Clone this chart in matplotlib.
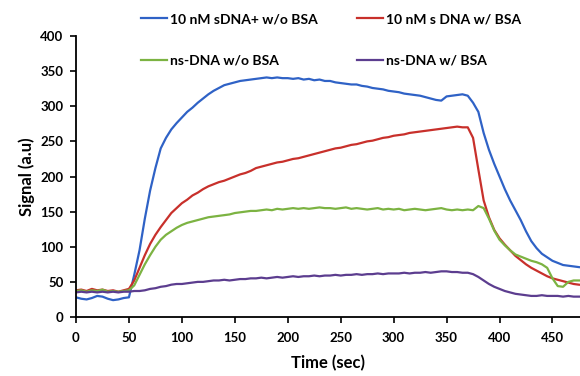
import numpy as np
import matplotlib
matplotlib.use("Agg")
import matplotlib.pyplot as plt

# sample times (sec), one reading every 5 s
time_s = np.arange(0, 480, 5)

sdna_no_bsa = [
    28, 26, 25, 27, 30, 29, 26, 24, 25, 27,
    28, 60, 95, 140, 180, 212, 240, 255, 267, 276,
    284, 292, 298, 305, 311, 317, 322, 326, 330, 332,
    334, 336, 337, 338, 339, 340, 341, 340, 341, 340,
    340, 339, 340, 338, 339, 337, 338, 336, 336, 334,
    333, 332, 331, 331, 329, 328, 326, 325, 324, 322,
    321, 320, 318, 317, 316, 315, 313, 311, 309, 308,
    314, 315, 316, 317, 315, 305, 292, 262, 238, 218,
    200, 182, 166, 152, 138, 122, 108, 98, 90, 85,
    80, 77, 74, 73, 72, 71,
]
sdna_bsa = [
    38, 39, 37, 40, 38, 39, 37, 38, 36, 38,
    40, 52, 70, 88, 104, 117, 128, 138, 148, 155,
    162, 167, 173, 177, 182, 186, 189, 192, 194, 197,
    200, 203, 205, 208, 212, 214, 216, 218, 220, 221,
    223, 225, 226, 228, 230, 232, 234, 236, 238, 240,
    241, 243, 245, 246, 248, 250, 251, 253, 255, 256,
    258, 259, 260, 262, 263, 264, 265, 266, 267, 268,
    269, 270, 271, 270, 270, 255, 210, 166, 142, 124,
    112, 103, 95, 87, 81, 75, 70, 66, 62, 58,
    55, 53, 51, 49, 47, 46,
]
nsdna_no_bsa = [
    37, 38, 36, 38, 37, 39, 36, 37, 36, 37,
    38, 45, 60, 75, 88, 100, 110, 117, 122, 127,
    131, 134, 136, 138, 140, 142, 143, 144, 145, 146,
    148, 149, 150, 151, 151, 152, 153, 152, 154, 153,
    154, 155, 154, 155, 154, 155, 156, 155, 155, 154,
    155, 156, 154, 155, 154, 153, 154, 155, 153, 154,
    153, 154, 152, 153, 154, 153, 152, 153, 154, 155,
    153, 152, 153, 152, 153, 152, 158, 155, 140, 123,
    110, 102, 95, 89, 86, 83, 80, 78, 75, 70,
    55, 44, 43, 50, 52, 52,
]
nsdna_bsa = [
    35, 36, 35, 36, 35, 36, 35, 36, 35, 36,
    36, 37, 37, 38, 40, 41, 43, 44, 46, 47,
    47, 48, 49, 50, 50, 51, 52, 52, 53, 52,
    53, 54, 54, 55, 55, 56, 55, 56, 57, 56,
    57, 58, 57, 58, 58, 59, 58, 59, 59, 60,
    59, 60, 60, 61, 60, 61, 61, 62, 61, 62,
    62, 62, 63, 62, 63, 63, 64, 63, 64, 65,
    65, 64, 64, 63, 63, 61, 57, 52, 47, 43,
    40, 37, 35, 33, 32, 31, 30, 30, 31, 30,
    30, 30, 29, 30, 29, 29,
]

labels = ["10 nM sDNA+ w/o BSA", "10 nM s DNA w/ BSA",
          "ns-DNA w/o BSA", "ns-DNA w/ BSA"]
colors = ["#2f62c6", "#c8302b", "#7cb342", "#5c3d8f"]
x_ticks = [0, 50, 100, 150, 200, 250, 300, 350, 400, 450]
y_ticks = [0, 50, 100, 150, 200, 250, 300, 350, 400]

plt.rcParams["font.family"] = ["Lato", "DejaVu Sans"]
plt.rcParams["font.weight"] = "bold"

fig = plt.figure(figsize=(5.8, 3.76), dpi=100)
ax = fig.add_axes([76 / 580, 1 - 317 / 376, 1 - 76 / 580, (317 - 36) / 376])

lines = []
for ys, c, lab in zip([sdna_no_bsa, sdna_bsa, nsdna_no_bsa, nsdna_bsa], colors, labels):
    ln, = ax.plot(time_s, ys, color=c, lw=1.6, label=lab)
    lines.append(ln)

ax.set_xlim(0, 476)
ax.set_ylim(0, 400)
ax.set_xticks(x_ticks)
ax.set_yticks(y_ticks)
ax.spines["top"].set_visible(False)
ax.spines["right"].set_visible(False)
for s in ["left", "bottom"]:
    ax.spines[s].set_linewidth(1.3)
ax.tick_params(axis="both", labelsize=9.5, width=1.2, length=4, pad=5)
ax.tick_params(axis="x", pad=7)
ax.set_xlabel("Time (sec)", fontsize=12, fontweight="bold", labelpad=8)
ax.set_ylabel("Signal (a.u)", fontsize=12, fontweight="bold", labelpad=4)

# legend above the plot, two columns
order = [0, 2, 1, 3]
fig.legend([lines[i] for i in order], [labels[i] for i in order],
           loc="upper left", bbox_to_anchor=(141 / 580, 1 - 13 / 376),
           ncol=2, frameon=False, fontsize=10, borderpad=0, borderaxespad=0,
           handlelength=1.9, handletextpad=0.2, columnspacing=2.8,
           labelspacing=2.15)

fig.savefig("out.png", dpi=100)
